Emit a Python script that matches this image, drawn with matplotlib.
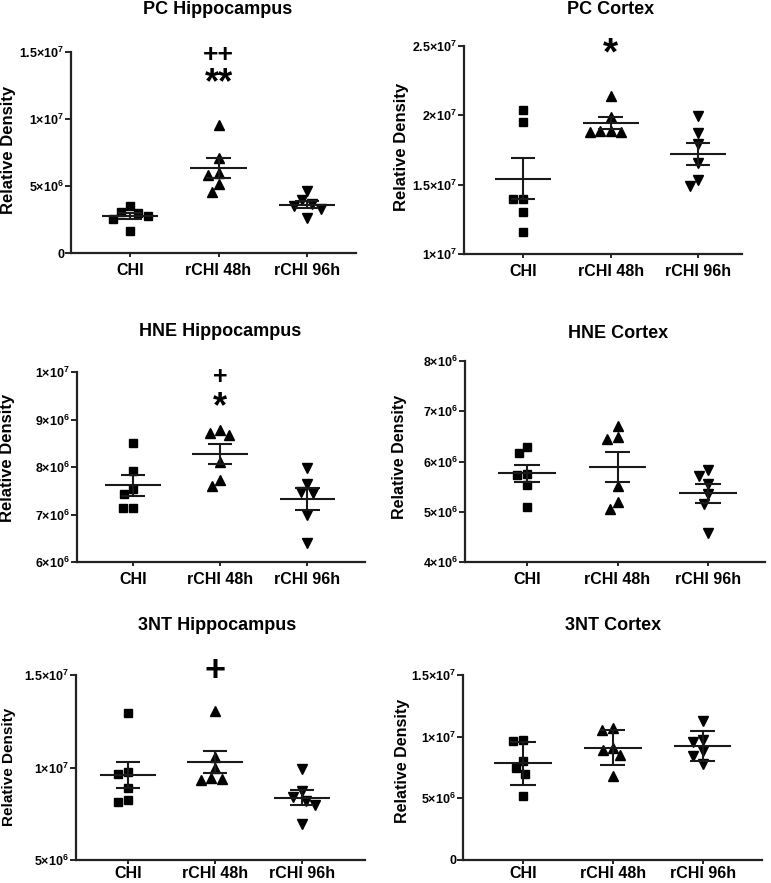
import numpy as np
import matplotlib.pyplot as plt

plt.rcParams['font.family'] = ['Liberation Sans', 'DejaVu Sans']
plt.rcParams['font.weight'] = 'bold'
plt.rcParams['mathtext.fontset'] = 'custom'
plt.rcParams['mathtext.rm'] = 'Liberation Sans:bold'
plt.rcParams['mathtext.bf'] = 'Liberation Sans:bold'
plt.rcParams['mathtext.default'] = 'bf'

groups = ['CHI', 'rCHI 48h', 'rCHI 96h']
markers = ['s', '^', 'v']

# relative density values (x 1e6)
pc_hip = [[3.07, 3.52, 2.75, 2.57, 3.00, 1.65],
          [9.56, 7.06, 5.94, 5.82, 5.12, 4.52],
          [4.64, 3.94, 3.64, 3.50, 3.30, 2.60]]
pc_ctx = [[20.4, 19.55, 14.0, 14.0, 13.0, 11.6],
          [21.4, 19.9, 18.9, 18.8, 18.8, 18.9],
          [19.94, 18.69, 17.92, 16.53, 15.33, 14.9]]
hne_hip = [[8.51, 7.91, 7.545, 7.425, 7.14, 7.14],
           [8.78, 8.67, 8.72, 8.11, 7.60, 7.73],
           [7.97, 7.65, 7.47, 7.46, 7.00, 6.39]]
hne_ctx = [[6.29, 6.16, 5.73, 5.75, 5.54, 5.10],
           [6.70, 6.44, 6.49, 5.51, 5.20, 5.05],
           [5.84, 5.72, 5.56, 5.35, 5.16, 4.58]]
nt_hip = [[12.92, 9.66, 9.75, 8.91, 8.15, 8.24],
          [13.04, 10.55, 9.98, 9.45, 9.31, 9.36],
          [9.93, 8.74, 8.20, 8.43, 7.99, 6.92]]
nt_ctx = [[9.76, 9.63, 8.03, 7.42, 6.97, 5.16],
          [10.56, 10.69, 8.88, 9.10, 8.48, 6.84],
          [11.28, 9.55, 9.76, 8.83, 8.43, 7.82]]

# significance marks over rCHI 48h: (text, height x 1e6, size)
pc_hip_sig = [('++', 14.8, 19), ('**', 12.6, 26)]
pc_ctx_sig = [('*', 24.4, 28)]
hne_hip_sig = [('+', 9.9, 18), ('*', 9.25, 26)]
nt_hip_sig = [('+', 15.2, 26)]

W, H = 771, 883
fig = plt.figure(figsize=(W / 100, H / 100), dpi=100)

panels = [
    dict(title='PC Hippocampus', data=pc_hip, sig=pc_hip_sig, err='sem',
         ylim=(0, 15), yticks=[0, 5, 10, 15], box=(71, 356, 52, 253),
         xlim=(-0.667, 2.553), tpos=(218, 10), lpos=(9, 150), lsize=12, pad=4),
    dict(title='PC Cortex', data=pc_ctx, sig=pc_ctx_sig, err='sem',
         ylim=(10, 25), yticks=[10, 15, 20, 25], box=(464, 742, 46, 254),
         xlim=(-0.674, 2.50), tpos=(611, 10), lpos=(401, 147), lsize=12, pad=4),
    dict(title='HNE Hippocampus', data=hne_hip, sig=hne_hip_sig, err='sem',
         ylim=(6, 10), yticks=[6, 7, 8, 9, 10], box=(77, 365, 372, 562),
         xlim=(-0.643, 2.66), tpos=(220, 332), lpos=(8, 458), lsize=12, pad=4),
    dict(title='HNE Cortex', data=hne_ctx, sig=[], err='sem',
         ylim=(4, 8), yticks=[4, 5, 6, 7, 8], box=(465, 765, 361, 562),
         xlim=(-0.686, 2.63), tpos=(618, 333), lpos=(399, 457), lsize=11.5, pad=4),
    dict(title='3NT Hippocampus', data=nt_hip, sig=nt_hip_sig, err='sem',
         ylim=(5, 15), yticks=[5, 10, 15], box=(76, 365, 675, 860),
         xlim=(-0.598, 2.72), tpos=(217, 625), lpos=(9, 767), lsize=11, pad=1),
    dict(title='3NT Cortex', data=nt_ctx, sig=[], err='sd',
         ylim=(0, 15), yticks=[0, 5, 10, 15], box=(463, 762, 675, 860),
         xlim=(-0.668, 2.66), tpos=(613, 625), lpos=(402, 761), lsize=11.5, pad=1),
]


def sci(v):
    v = v * 1e6
    if v == 0:
        return '0'
    e = int(np.floor(np.log10(v) + 1e-9))
    m = v / 10 ** e
    return r'$%s{\times}10^{%d}$' % (f'{m:g}', e)


def swarm(ypx, d):
    # compact beeswarm offsets (pixels) so markers do not overlap
    out = np.zeros(len(ypx))
    placed = []
    for i in np.argsort(-np.asarray(ypx)):
        y = ypx[i]
        bad = []
        for xj, yj in placed:
            dy = abs(y - yj)
            if dy < d:
                hw = np.sqrt(d * d - dy * dy)
                bad.append((xj - hw, xj + hw))
        cands = [0.0] + [b[0] for b in bad] + [b[1] for b in bad]
        cands.sort(key=lambda c: (abs(c), c))
        for c in cands:
            if all(not (lo + 1e-6 < c < hi - 1e-6) for lo, hi in bad):
                out[i] = c
                break
        placed.append((out[i], y))
    return out


for p in panels:
    l, r, t, b = p['box']
    ax = fig.add_axes([l / W, 1 - b / H, (r - l) / W, (b - t) / H])
    ax.set_xlim(*p['xlim'])
    ax.set_ylim(*p['ylim'])
    xscale = (r - l) / (p['xlim'][1] - p['xlim'][0])
    yscale = (b - t) / (p['ylim'][1] - p['ylim'][0])

    for g, vals in enumerate(p['data']):
        vals = np.array(vals)
        offs = swarm(vals * yscale, 10.5) / xscale
        ax.plot(g + offs, vals, ls='none', marker=markers[g], ms=6.5 if g else 6,
                color='black', clip_on=False, zorder=3)
        m = vals.mean()
        e = vals.std(ddof=1)
        if p['err'] == 'sem':
            e = e / np.sqrt(len(vals))
        ax.hlines(m, g - 0.32, g + 0.32, color='#1a1a1a', lw=1.5, zorder=4)
        ax.vlines(g, m - e, m + e, color='#1a1a1a', lw=1.5, zorder=4)
        ax.hlines([m - e, m + e], g - 0.14, g + 0.14, color='#1a1a1a', lw=1.5, zorder=4)

    for txt, y, size in p['sig']:
        ax.text(1, y, txt, ha='center', va='center', fontsize=size,
                fontweight='bold', clip_on=False)

    ax.set_xticks(range(len(groups)))
    ax.set_xticklabels(groups, fontsize=11.5, fontweight='bold')
    ax.set_yticks(p['yticks'])
    ax.set_yticklabels([sci(v) for v in p['yticks']], fontsize=9)
    ax.tick_params(axis='x', length=3, width=1.2, pad=p['pad'])
    ax.tick_params(axis='y', length=4, width=1.2, pad=1)
    for s in ['top', 'right']:
        ax.spines[s].set_visible(False)
    for s in ['left', 'bottom']:
        ax.spines[s].set_linewidth(1.6)
        ax.spines[s].set_color('#222222')

    fig.text(p['tpos'][0] / W, 1 - p['tpos'][1] / H, p['title'], ha='center',
             va='center', fontsize=13, fontweight='bold')
    fig.text(p['lpos'][0] / W, 1 - p['lpos'][1] / H, 'Relative Density',
             rotation=90, ha='center', va='center', fontsize=p['lsize'],
             fontweight='bold')

fig.savefig('out.png', dpi=100)
